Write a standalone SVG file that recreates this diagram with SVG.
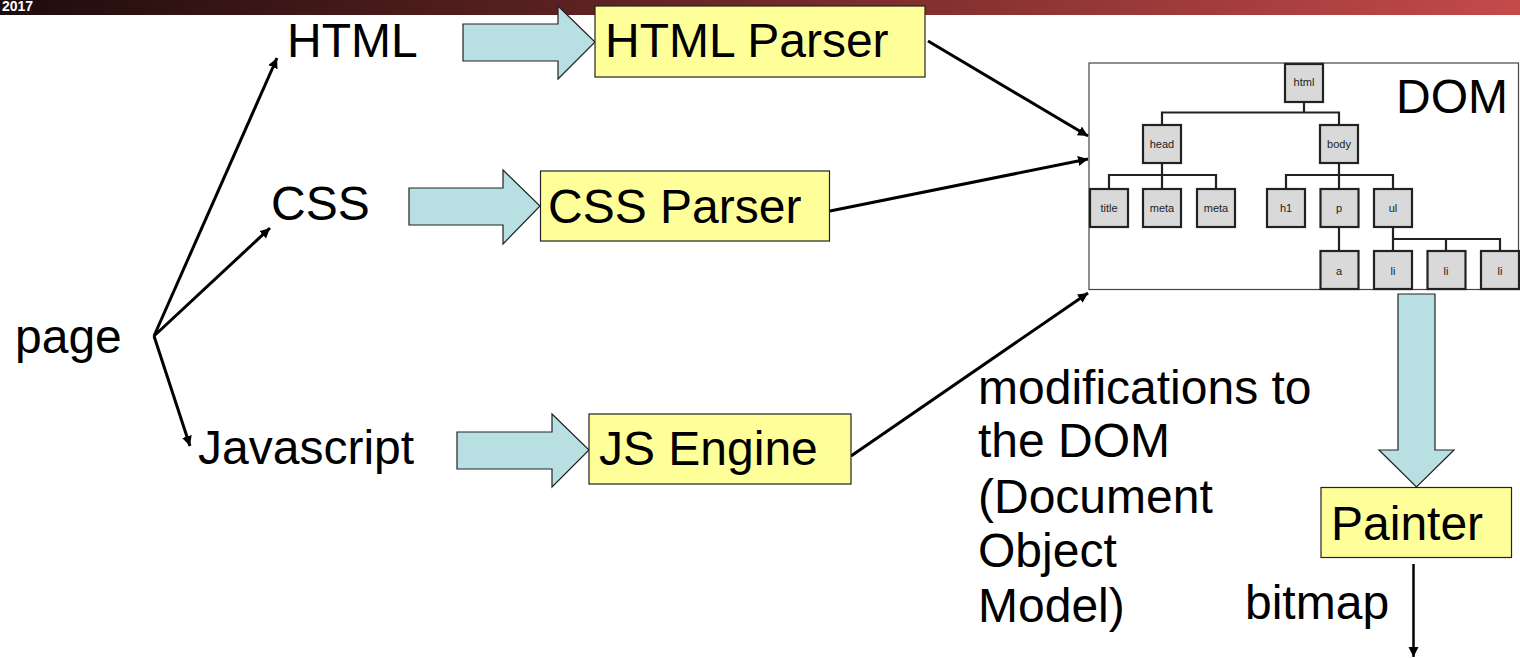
<svg xmlns="http://www.w3.org/2000/svg" width="1520" height="658" viewBox="0 0 1520 658">
<style>
text{font-family:"Liberation Sans",Arial,sans-serif;fill:#000}
.big{font-size:48px}
.t{font-size:11px;text-anchor:middle;fill:#222}
.block{fill:#b8dfe2;stroke:#222;stroke-width:1.2}
.proc{fill:#ffff99;stroke:#222;stroke-width:1.2}
.n{fill:#d9d9d9;stroke:#222;stroke-width:2.2}
.tree{fill:none;stroke:#222;stroke-width:2.2}
.c{fill:none;stroke:#000;stroke-width:3;marker-end:url(#a)}
.c2{fill:none;stroke:#000;stroke-width:2.5;marker-end:url(#a)}
</style>
<defs>
<linearGradient id="g" x1="0" x2="1" y1="0" y2="0"><stop offset="0" stop-color="#1e0c0c"/><stop offset="0.5" stop-color="#702828"/><stop offset="1" stop-color="#c44a4a"/></linearGradient>
<marker id="a" markerUnits="userSpaceOnUse" markerWidth="12" markerHeight="12" refX="10" refY="5" orient="auto"><path d="M0 0L10 5L0 10Z" fill="#000"/></marker>
</defs>
<rect id="banner" x="0" y="0" width="1520" height="15" fill="url(#g)"/>
<text x="2" y="11" style="font-size:14px;font-weight:bold;fill:#fff">2017</text>
<g id="dom"><rect x="1089" y="63" width="429.500" height="226.500" fill="#fff" stroke="#444" stroke-width="1.200"/><text x="1396" y="113" class="big">DOM</text></g>
<g id="connectors">
<path class="c" d="M154 336L277 58"/>
<path class="c" d="M154 336L270 228"/>
<path class="c" d="M154 336L190 446"/>
<path class="c" d="M928 41L1088 136"/>
<path class="c" d="M830 211L1088 159"/>
<path class="c" d="M851 456L1088 293"/>
<path class="c2" d="M1413.500 564L1413.500 657"/>
<path class="tree" d="M1304 102V112.500H1162V125M1304 112.500H1339V125M1162 163V175H1109V189M1162 175V189M1162 175H1216V189M1339 163V175H1286V189M1339 175V189M1339 175H1393V189M1339 227V251M1393 227V251M1393 239H1500V251M1446 239V251"/>
</g>
<g id="n-html"><rect class="n" x="1285" y="64" width="38" height="38"/><text class="t" x="1304" y="86">html</text></g>
<g id="n-head"><rect class="n" x="1143" y="125" width="38" height="38"/><text class="t" x="1162" y="148">head</text></g>
<g id="n-body"><rect class="n" x="1320" y="125" width="38" height="38"/><text class="t" x="1339" y="148">body</text></g>
<g id="n-title"><rect class="n" x="1090" y="189" width="38" height="38"/><text class="t" x="1109" y="212">title</text></g>
<g id="n-meta1"><rect class="n" x="1143" y="189" width="38" height="38"/><text class="t" x="1162" y="212">meta</text></g>
<g id="n-meta2"><rect class="n" x="1197" y="189" width="38" height="38"/><text class="t" x="1216" y="212">meta</text></g>
<g id="n-h1"><rect class="n" x="1267" y="189" width="38" height="38"/><text class="t" x="1286" y="212">h1</text></g>
<g id="n-p"><rect class="n" x="1320.500" y="189" width="38" height="38"/><text class="t" x="1339" y="212">p</text></g>
<g id="n-ul"><rect class="n" x="1374" y="189" width="38" height="38"/><text class="t" x="1393" y="212">ul</text></g>
<g id="n-a"><rect class="n" x="1320.500" y="251" width="38" height="38"/><text class="t" x="1339" y="275">a</text></g>
<g id="n-li1"><rect class="n" x="1374" y="251" width="38" height="38"/><text class="t" x="1393" y="275">li</text></g>
<g id="n-li2"><rect class="n" x="1427.500" y="251" width="38" height="38"/><text class="t" x="1446" y="275">li</text></g>
<g id="n-li3"><rect class="n" x="1481" y="251" width="38" height="38"/><text class="t" x="1500" y="275">li</text></g>
<g id="arrow-html"><path class="block" d="M463 24H558V6L595 42L558 79V61H463Z"/></g>
<g id="arrow-css"><path class="block" d="M409 188H503V170L540 206L503 244V225H409Z"/></g>
<g id="arrow-js"><path class="block" d="M457 432H552V414L589 450L552 487V469H457Z"/></g>
<g id="arrow-paint"><path class="block" d="M1398 294H1435V450H1454L1416.500 487L1379 450H1398Z"/></g>
<g id="html-parser"><rect class="proc" x="595" y="6" width="330" height="71"/><text class="big" x="605" y="57">HTML Parser</text></g>
<g id="css-parser"><rect class="proc" x="540.500" y="171" width="289" height="70"/><text class="big" x="548" y="223">CSS Parser</text></g>
<g id="js-engine"><rect class="proc" x="589" y="414" width="262" height="70"/><text class="big" x="599" y="464.500">JS Engine</text></g>
<g id="painter"><rect class="proc" x="1321" y="487.500" width="190.500" height="70"/><text class="big" x="1331" y="540">Painter</text></g>
<g id="labels">
<text class="big" x="287" y="57">HTML</text>
<text class="big" x="271" y="220">CSS</text>
<text class="big" x="15" y="353">page</text>
<text class="big" x="198" y="464">Javascript</text>
<text class="big" x="978" y="404">modifications to</text>
<text class="big" x="978" y="457">the DOM</text>
<text class="big" x="978" y="512.500">(Document</text>
<text class="big" x="978" y="567">Object</text>
<text class="big" x="978" y="622">Model)</text>
<text class="big" x="1245" y="619">bitmap</text>
</g>
</svg>
